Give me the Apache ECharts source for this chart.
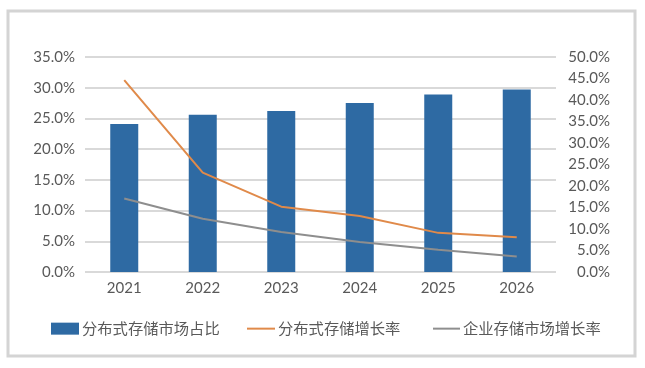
<!DOCTYPE html>
<html><head><meta charset="utf-8">
<script src="https://cdn.jsdelivr.net/npm/echarts@6/dist/echarts.min.js"></script>
<style>html,body{margin:0;padding:0;background:#fff;}#c{width:645px;height:368px;}</style>
</head><body><div id="c"></div>
<script>
const categories = ['2021','2022','2023','2024','2025','2026'];
const shareValues = [24.1, 25.6, 26.2, 27.5, 28.9, 29.7];
const distGrowth = [44.6, 23.1, 15.2, 13.0, 9.1, 8.1];
const entGrowth = [17.1, 12.4, 9.3, 7.0, 5.2, 3.6];
const seriesNames = ['分布式存储市场占比', '分布式存储增长率', '企业存储市场增长率'];

const numFont = 'Lato, "Noto Sans", sans-serif';
const cjkFont = '"Noto Sans CJK SC", sans-serif';
const txt = '#595959';
const legendText = {fontFamily:cjkFont, fontSize:15.3, color:txt, padding:[0,0,0,-2]};
const chart = echarts.init(document.getElementById('c'));
chart.setOption({
  backgroundColor: '#fff',
  animation: false,
  graphic: [{type:'rect', shape:{x:8, y:11, width:627, height:345}, style:{fill:'none', stroke:'#d4d4d4', lineWidth:3}, z:-1}],
  grid: {left: 85, right: 89, top: 57, bottom: 96},
  legend: [
    {data:[seriesNames[0]], left:46, top:316, icon:'rect', itemWidth:28, itemHeight:12, textStyle:legendText},
    {data:[seriesNames[1]], left:242, top:316, icon:'rect', itemWidth:28, itemHeight:2, textStyle:legendText},
    {data:[seriesNames[2]], left:428, top:316, icon:'rect', itemWidth:27, itemHeight:2, textStyle:legendText}
  ],
  xAxis: {type:'category', data:categories, axisLine:{show:false}, axisTick:{show:false},
    axisLabel:{fontFamily:numFont, fontSize:15, color:txt, margin:9}},
  yAxis: [
    {type:'value', min:0, max:35, interval:5, axisLine:{show:false}, axisTick:{show:false},
      splitLine:{lineStyle:{color:'#d9d9d9', width:2}},
      axisLabel:{formatter: v => v.toFixed(1)+'%', fontFamily:numFont, fontSize:15, color:txt, margin:10}},
    {type:'value', min:0, max:50, interval:5, position:'right', axisLine:{show:false}, axisTick:{show:false},
      splitLine:{show:false},
      axisLabel:{formatter: v => v.toFixed(1)+'%', fontFamily:numFont, fontSize:15, color:txt, margin:54, align:'right'}}
  ],
  series: [
    {name:seriesNames[0], type:'bar', data:shareValues, barWidth:28, itemStyle:{color:'#2e6aa3'}},
    {name:seriesNames[1], type:'line', yAxisIndex:1, data:distGrowth, symbol:'none', lineStyle:{color:'#e08a4a', width:2}, itemStyle:{color:'#e08a4a'}},
    {name:seriesNames[2], type:'line', yAxisIndex:1, data:entGrowth, symbol:'none', lineStyle:{color:'#8e8e8e', width:2}, itemStyle:{color:'#8e8e8e'}}
  ]
});
</script></body></html>
